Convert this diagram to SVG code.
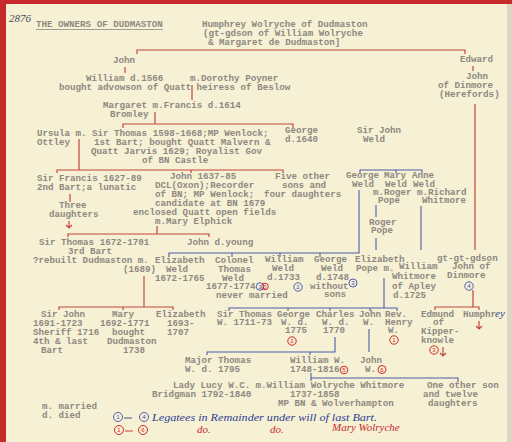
<svg xmlns="http://www.w3.org/2000/svg" width="512" height="442" viewBox="0 0 512 442">
<style>
.t{font-family:"Liberation Mono",monospace;font-size:9.2px;font-weight:bold;fill:#8e8880}
.h{font-family:"Liberation Serif",serif;font-style:italic;font-size:11px}
.hb{fill:#2c3f8f}
.hr{fill:#c8282a}
.r{fill:none;stroke:#c4463a;stroke-width:1.2}
.b{fill:none;stroke:#4d5ca8;stroke-width:1.1}
.cb{fill:none;stroke:#3a50b0;stroke-width:0.9}
.cr{fill:none;stroke:#d02828;stroke-width:1}
.nb{font-family:"Liberation Sans",sans-serif;font-size:6px;fill:#3a50b0;text-anchor:middle}
.nr{font-family:"Liberation Sans",sans-serif;font-size:6px;fill:#d02828;text-anchor:middle}
</style>
<rect x="0" y="0" width="512" height="442" fill="#c62a2a"/>
<rect x="6" y="4" width="506" height="438" fill="#f6f0d5"/>
<rect x="507" y="4" width="5" height="438" fill="#ddd4c4"/>

<g id="connectors">
<path class="r" d="M137,54 V50 H465 V54"/>
<path class="r" d="M473,66 V71"/>
<path class="r" d="M125,67 V73"/>
<path class="r" d="M192,85 V100"/>
<path class="r" d="M155,112 V124 M123,128 V124 H293 V128"/>
<path class="r" d="M79,139 V170 M57,173 V170 H283 V173 M191,170 V173"/>
<path class="r" d="M70,194 V202"/>
<path class="r" d="M69,221 V228 M66,225 L69,228 L72,225"/>
<path class="r" d="M157,226 V234 M68,237 V234 H209 V237"/>
<path class="r" d="M144,276 V307 M59,310 V307 H173 V310 M123,307 V310"/>
<path class="r" d="M475,104 V250"/>
<path class="r" d="M473,290 V307 M435,310 V307 H479 V310"/>
<path class="r" d="M479,321 V329 M476,326 L479,329 L482,326"/>
<path class="r" d="M443,347 V356 M440,353 L443,356 L446,353"/>
<path class="b" d="M360,173 V170 H422 V173 M396,170 V173"/>
<path class="b" d="M359,190 V253 H169 V257 M232,253 V257 M280,253 V257 M320,253 V257"/>
<path class="b" d="M376,205 V217 M376,238 V250"/>
<path class="b" d="M421,206 V250"/>
<path class="b" d="M384,278 V308 M229,311 V308 H397 V311 M288,308 V311 M330,308 V311 M370,308 V311"/>
<path class="b" d="M335,337 V352 H207 V355 M310,352 V355"/>
<path class="b" d="M369,329 V352"/>
<path class="b" d="M311,373 V381 M311,378 H458 V382"/>
</g>

<g id="archive-number"><text class="h" x="9" y="22" fill="#4a4a5c">2876</text></g>
<g id="title"><text class="t" x="36" y="27">THE OWNERS OF DUDMASTON</text><path d="M36,29.5 H163" stroke="#8e8880" stroke-width="0.8"/></g>
<g id="humphrey-wolryche"><text class="t" x="202" y="27">Humphrey Wolryche of Dudmaston</text><text class="t" x="203" y="36">(gt-gdson of William Wolryche</text><text class="t" x="208" y="45">&amp; Margaret de Dudmaston]</text></g>
<g id="john"><text class="t" x="113" y="63">John</text></g>
<g id="edward"><text class="t" x="460" y="62">Edward</text></g>
<g id="john-dinmore"><text class="t" x="466" y="79">John</text><text class="t" x="438" y="88">of Dinmore</text><text class="t" x="439" y="97">(Herefords)</text></g>
<g id="william"><text class="t" x="86" y="81">William d.1566</text><text class="t" x="59" y="90">bought advowson of Quatt</text></g>
<g id="dorothy"><text class="t" x="190" y="81">m.Dorothy Poyner</text><text class="t" x="196.5" y="90">heiress of Beslow</text></g>
<g id="margaret"><text class="t" x="103" y="108">Margaret m.Francis d.1614</text><text class="t" x="110" y="117">Bromley</text></g>
<g id="ursula"><text class="t" x="37" y="136">Ursula m.</text><text class="t" x="37" y="145">Ottley</text></g>
<g id="sir-thomas-1598"><text class="t" x="92" y="136">Sir Thomas 1598-1668;MP Wenlock;</text><text class="t" x="94" y="145">1st Bart; bought Quatt Malvern &amp;</text><text class="t" x="91" y="154">Quatt Jarvis 1629; Royalist Gov</text><text class="t" x="142" y="163">of BN Castle</text></g>
<g id="george-1640"><text class="t" x="285" y="133">George</text><text class="t" x="285" y="142">d.1640</text></g>
<g id="sir-john-weld"><text class="t" x="357" y="133">Sir John</text><text class="t" x="363" y="142">Weld</text></g>
<g id="sir-francis"><text class="t" x="37" y="181">Sir Francis 1627-89</text><text class="t" x="37" y="190">2nd Bart;a lunatic</text></g>
<g id="three-daughters"><text class="t" x="59" y="208">Three</text><text class="t" x="49" y="217">daughters</text></g>
<g id="john-1637"><text class="t" x="170" y="179">John 1637-85</text><text class="t" x="155" y="188">DCL(Oxon);Recorder</text><text class="t" x="155" y="197">of BN; MP Wenlock;</text><text class="t" x="155" y="206">candidate at BN 1679</text><text class="t" x="133" y="215">enclosed Quatt open fields</text><text class="t" x="155" y="224">m.Mary Elphick</text></g>
<g id="five-other"><text class="t" x="275" y="179">Five other</text><text class="t" x="282" y="188">sons and</text><text class="t" x="264" y="197">four daughters</text></g>
<g id="george-weld-1"><text class="t" x="346" y="178">George</text><text class="t" x="352" y="187">Weld</text></g>
<g id="mary-weld"><text class="t" x="384" y="178">Mary</text><text class="t" x="385" y="187">Weld</text><text class="t" x="373" y="195">m.Roger</text><text class="t" x="378" y="203">Pope</text></g>
<g id="anne-weld"><text class="t" x="412" y="178">Anne</text><text class="t" x="413" y="187">Weld</text><text class="t" x="417" y="195">m.Richard</text><text class="t" x="422" y="203">Whitmore</text></g>
<g id="roger-pope"><text class="t" x="369" y="225">Roger</text><text class="t" x="371" y="233">Pope</text></g>
<g id="sir-thomas-1672"><text class="t" x="39" y="245">Sir Thomas 1672-1701</text><text class="t" x="68" y="254">3rd Bart</text><text class="t" x="33" y="263">?rebuilt Dudmaston m.</text><text class="t" x="123" y="272">(1689)</text></g>
<g id="john-young"><text class="t" x="187" y="245">John d.young</text></g>
<g id="elizabeth-weld"><text class="t" x="155" y="263">Elizabeth</text><text class="t" x="166" y="272">Weld</text><text class="t" x="155" y="281">1672-1765</text></g>
<g id="colonel-thomas"><text class="t" x="215" y="263">Colonel</text><text class="t" x="218" y="272">Thomas</text><text class="t" x="222" y="281">Weld</text><text class="t" x="206" y="289">1677-1774</text><text class="t" x="216" y="298">never married</text><circle class="cb" cx="260" cy="286.5" r="3.8"/><circle class="cr" cx="265" cy="286.5" r="3.3"/><text class="nb" x="260" y="288.7">1</text><text class="nr" x="265" y="288.7">0</text></g>
<g id="william-weld"><text class="t" x="265" y="262">William</text><text class="t" x="272" y="271">Weld</text><text class="t" x="267" y="280">d.1733</text><circle class="cb" cx="298" cy="287" r="4.2"/><text class="nb" x="298" y="289.2">2</text></g>
<g id="george-weld-1748"><text class="t" x="314" y="262">George</text><text class="t" x="321" y="271">Weld</text><text class="t" x="316" y="280">d.1748</text><text class="t" x="310" y="289">without</text><text class="t" x="324" y="297">sons</text><circle class="cb" cx="353" cy="283" r="4"/><text class="nb" x="353" y="285.2">3</text></g>
<g id="elizabeth-pope"><text class="t" x="355" y="262">Elizabeth</text><text class="t" x="356" y="271">Pope m.</text></g>
<g id="william-whitmore"><text class="t" x="399" y="269">William</text><text class="t" x="392" y="279">Whitmore</text><text class="t" x="392" y="289">of Apley</text><text class="t" x="393" y="298">d.1725</text></g>
<g id="gt-gt-gdson"><text class="t" x="437" y="261">gt-gt-gdson</text><text class="t" x="452" y="269">John of</text><text class="t" x="447" y="278">Dinmore</text><circle class="cb" cx="469" cy="286" r="4.2"/><text class="nb" x="469" y="288.2">4</text></g>
<g id="sir-john-1691"><text class="t" x="41" y="317">Sir John</text><text class="t" x="33" y="326">1691-1723</text><text class="t" x="33" y="335">Sheriff 1716</text><text class="t" x="33" y="344">4th &amp; last</text><text class="t" x="41" y="353">Bart</text></g>
<g id="mary-1692"><text class="t" x="112" y="317">Mary</text><text class="t" x="100" y="326">1692-1771</text><text class="t" x="112" y="335">bought</text><text class="t" x="107" y="344">Dudmaston</text><text class="t" x="123" y="353">1738</text></g>
<g id="elizabeth-1693"><text class="t" x="156" y="317">Elizabeth</text><text class="t" x="167" y="326">1693-</text><text class="t" x="167" y="335">1707</text></g>
<g id="sir-thomas-w"><text class="t" x="217" y="317">Sir Thomas</text><text class="t" x="217" y="325">W. 1711-73</text></g>
<g id="george-w"><text class="t" x="277" y="317">George</text><text class="t" x="281" y="325">W. d.</text><text class="t" x="285" y="333">1775</text><circle class="cr" cx="292" cy="341" r="4.2"/><text class="nr" x="292" y="343.2">2</text></g>
<g id="charles-w"><text class="t" x="316" y="317">Charles</text><text class="t" x="322" y="325">W. d.</text><text class="t" x="323" y="333">1770</text></g>
<g id="john-w"><text class="t" x="359" y="317">John</text><text class="t" x="363" y="325">W.</text></g>
<g id="rev-henry-w"><text class="t" x="385" y="317">Rev.</text><text class="t" x="385" y="325">Henry</text><text class="t" x="388" y="333">W.</text><circle class="cr" cx="394" cy="340" r="4.2"/><text class="nr" x="394" y="342.2">1</text></g>
<g id="edmund"><text class="t" x="421" y="317">Edmund</text><text class="t" x="433" y="325">of</text><text class="t" x="421" y="334">Kipper-</text><text class="t" x="421" y="343">knowle</text><circle class="cr" cx="434" cy="350" r="4.2"/><text class="nr" x="434" y="352.2">3</text></g>
<g id="humphrey"><text class="t" x="463" y="317">Humphr</text><text class="h hb" x="495" y="317">ey</text></g>
<g id="major-thomas"><text class="t" x="185" y="363">Major Thomas</text><text class="t" x="185" y="372">W. d. 1795</text></g>
<g id="william-w-1748"><text class="t" x="290" y="363">William W.</text><text class="t" x="290" y="372">1748-1816</text><circle class="cr" cx="344" cy="370" r="3.8"/><text class="nr" x="344" y="372.2">5</text></g>
<g id="john-w-2"><text class="t" x="360" y="363">John</text><text class="t" x="365" y="372">W.</text><circle class="cr" cx="382" cy="369.5" r="4"/><text class="nr" x="382" y="371.7">6</text></g>
<g id="lady-lucy"><text class="t" x="173" y="388">Lady Lucy W.C.</text><text class="t" x="152" y="397">Bridgman 1792-1840</text></g>
<g id="william-wolryche-whitmore"><text class="t" x="255.5" y="388">m.William Wolryche Whitmore</text><text class="t" x="290" y="397">1737-1858</text><text class="t" x="278" y="406">MP BN &amp; Wolverhampton</text></g>
<g id="one-other-son"><text class="t" x="427" y="388">One other son</text><text class="t" x="423" y="397">and twelve</text><text class="t" x="428" y="406">daughters</text></g>
<g id="key"><text class="t" x="42" y="409">m. married</text><text class="t" x="42" y="418">d. died</text></g>
<g id="note-blue"><circle class="cb" cx="118" cy="417" r="4.5"/><text class="nb" x="118" y="419.2">1</text><path d="M124,418 H132" stroke="#2c3f8f" stroke-width="0.9"/><circle class="cb" cx="144" cy="417" r="4.5"/><text class="nb" x="144" y="419.2">4</text><text class="h hb" x="152" y="421" textLength="225" lengthAdjust="spacingAndGlyphs">Legatees in Remainder under will of last Bart.</text></g>
<g id="note-red"><circle class="cr" cx="119" cy="430" r="4.5"/><text class="nr" x="119" y="432.2">1</text><path d="M125,431 H133" stroke="#c8282a" stroke-width="0.9"/><circle class="cr" cx="143" cy="430" r="4.5"/><text class="nr" x="143" y="432.2">6</text><text class="h hr" x="197" y="433">do.</text><text class="h hr" x="270" y="433">do.</text><text class="h hr" x="332" y="431">Mary Wolryche</text></g>
</svg>
